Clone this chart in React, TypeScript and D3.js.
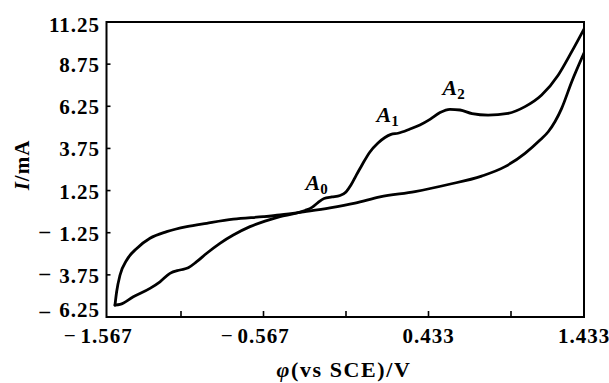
import React from "react";
import * as d3 from "d3";

// Anodic (forward) scan: potential (V) and current (mA)
const forwardV = [-1.510, -1.476, -1.387, -1.275, -1.208, -1.141, -1.074, -1.023, -0.972, -0.911, -0.831, -0.750, -0.649, -0.558, -0.467, -0.376, -0.315, -0.273, -0.237, -0.200, -0.152, -0.103, -0.067, -0.037, -0.006, 0.030, 0.078, 0.127, 0.169, 0.206, 0.248, 0.321, 0.381, 0.442, 0.503, 0.563, 0.624, 0.697, 0.794, 0.915, 1.029, 1.143, 1.257, 1.349, 1.433];
const forwardI = [-5.54, -5.50, -5.05, -4.55, -4.16, -3.66, -3.46, -3.33, -2.97, -2.47, -1.88, -1.39, -0.89, -0.56, -0.29, -0.11, 0.07, 0.25, 0.54, 0.78, 0.87, 0.96, 1.17, 1.58, 2.14, 2.77, 3.54, 4.07, 4.40, 4.58, 4.65, 4.90, 5.14, 5.47, 5.88, 6.07, 6.03, 5.82, 5.73, 5.83, 6.23, 6.92, 8.11, 9.49, 10.83];

// Cathodic (reverse) scan
const reverseV = [1.433, 1.349, 1.280, 1.188, 1.132, 1.029, 0.897, 0.755, 0.553, 0.351, 0.139, -0.012, -0.164, -0.315, -0.467, -0.568, -0.750, -0.911, -1.032, -1.163, -1.275, -1.364, -1.431, -1.476, -1.499, -1.510];
const reverseI = [9.41, 7.71, 6.13, 4.74, 4.25, 3.46, 2.67, 2.11, 1.61, 1.19, 0.87, 0.50, 0.22, 0.00, -0.20, -0.30, -0.45, -0.69, -0.89, -1.19, -1.58, -2.18, -2.87, -3.76, -4.75, -5.54];

const xTicks = [-1.567, -1.067, -0.567, -0.067, 0.433, 0.933, 1.433];
const xTickLabels = ["-1.567", "", "-0.567", "", "0.433", "", "1.433"];
const yTicks = [-6.25, -3.75, -1.25, 1.25, 3.75, 6.25, 8.75, 11.25];
const yTickLabels = ["-6.25", "-3.75", "-1.25", "1.25", "3.75", "6.25", "8.75", "11.25"];

const peakNames = ["A", "A", "A"];
const peakSubs = ["0", "1", "2"];
const peakV = [-0.312, 0.118, 0.518];
const peakI = [1.28, 5.32, 6.92];

const L = 106.5, R = 584, T = 22, B = 317;
const FONT = "'Liberation Serif', 'Times New Roman', serif";

export default function App() {
  const x = d3.scaleLinear().domain([-1.567, -1.067, 0.933, 1.433]).range([L, 181, 511, R]);
  const y = d3.scaleLinear().domain([-6.25, 11.25]).range([B, T]);

  const line = d3
    .line<[number, number]>()
    .x((d) => x(d[0]))
    .y((d) => y(d[1]))
    .curve(d3.curveMonotoneX);

  const fwd = forwardV.map((v, i) => [v, forwardI[i]] as [number, number]);
  const rev = reverseV.map((v, i) => [v, reverseI[i]] as [number, number]).reverse();

  const labelStyle = { fontFamily: FONT, fontWeight: 700, fontSize: 21, letterSpacing: 1 } as const;
  const minusStyle = { fontFamily: FONT, fontWeight: 700, fontSize: 21 } as const;
  const xMinusStyle = { fontFamily: FONT, fontWeight: 700, fontSize: 19 } as const;

  // edge labels are nudged inward, as in the reference
  const yLabelDy = (i: number) => (i === 0 ? 0 : i === yTicks.length - 1 ? 10 : 8);
  const yMinusDy = (i: number) => (i === 0 ? 1 : 5);

  return (
    <svg
      width={609}
      height={383}
      style={{ position: "absolute", left: 0, top: 0, background: "#fff" }}
    >
      <defs>
        <clipPath id="plot">
          <rect x={L} y={T} width={R - L} height={B - T} />
        </clipPath>
      </defs>

      <g clipPath="url(#plot)" fill="none" stroke="#000" strokeWidth={2.8} strokeLinejoin="round" strokeLinecap="round">
        <path d={line(fwd) || ""} />
        <path d={line(rev) || ""} />
      </g>

      {/* frame */}
      <rect x={L} y={T} width={R - L} height={B - T} fill="none" stroke="#000" strokeWidth={2} />

      {/* x ticks */}
      {xTicks.map((t, i) => (
        <g key={"xt" + i}>
          {i > 0 && i < xTicks.length - 1 && (
            <line x1={x(t)} x2={x(t)} y1={B} y2={B - 6} stroke="#000" strokeWidth={1.6} />
          )}
          {xTickLabels[i] !== "" && (
            <>
              <text x={x(t)} y={343} textAnchor="middle" style={labelStyle}>
                {xTickLabels[i].replace("-", "")}
              </text>
              {xTickLabels[i].startsWith("-") && (
                <text x={x(t) - 32} y={340} textAnchor="end" style={xMinusStyle}>
                  –
                </text>
              )}
            </>
          )}
        </g>
      ))}

      {/* y ticks */}
      {yTicks.map((t, i) => (
        <g key={"yt" + i}>
          {i > 0 && i < yTicks.length - 1 && (
            <line x1={L} x2={L + 4} y1={y(t)} y2={y(t)} stroke="#000" strokeWidth={1.6} />
          )}
          <text x={100} y={y(t) + yLabelDy(i)} textAnchor="end" style={labelStyle}>
            {yTickLabels[i].replace("-", "")}
          </text>
          {yTickLabels[i].startsWith("-") && (
            <text x={50} y={y(t) + yMinusDy(i)} textAnchor="end" style={minusStyle}>
              –
            </text>
          )}
        </g>
      ))}

      {/* axis titles */}
      <text
        transform="translate(29,165) rotate(-90)"
        textAnchor="middle"
        style={{ fontFamily: FONT, fontWeight: 700, fontSize: 21, letterSpacing: 1 }}
      >
        <tspan fontStyle="italic">I</tspan>/mA
      </text>
      <text
        x={344}
        y={377}
        textAnchor="middle"
        style={{ fontFamily: FONT, fontWeight: 700, fontSize: 22, letterSpacing: 1.6 }}
      >
        <tspan fontStyle="italic">φ</tspan>(vs SCE)/V
      </text>

      {/* peak labels */}
      {peakNames.map((n, i) => (
        <text
          key={"pk" + i}
          x={x(peakV[i])}
          y={y(peakI[i])}
          style={{ fontFamily: FONT, fontWeight: 700, fontSize: 22 }}
        >
          <tspan fontStyle="italic">{n}</tspan>
          <tspan fontSize={15} dy={4}>{peakSubs[i]}</tspan>
        </text>
      ))}
    </svg>
  );
}
